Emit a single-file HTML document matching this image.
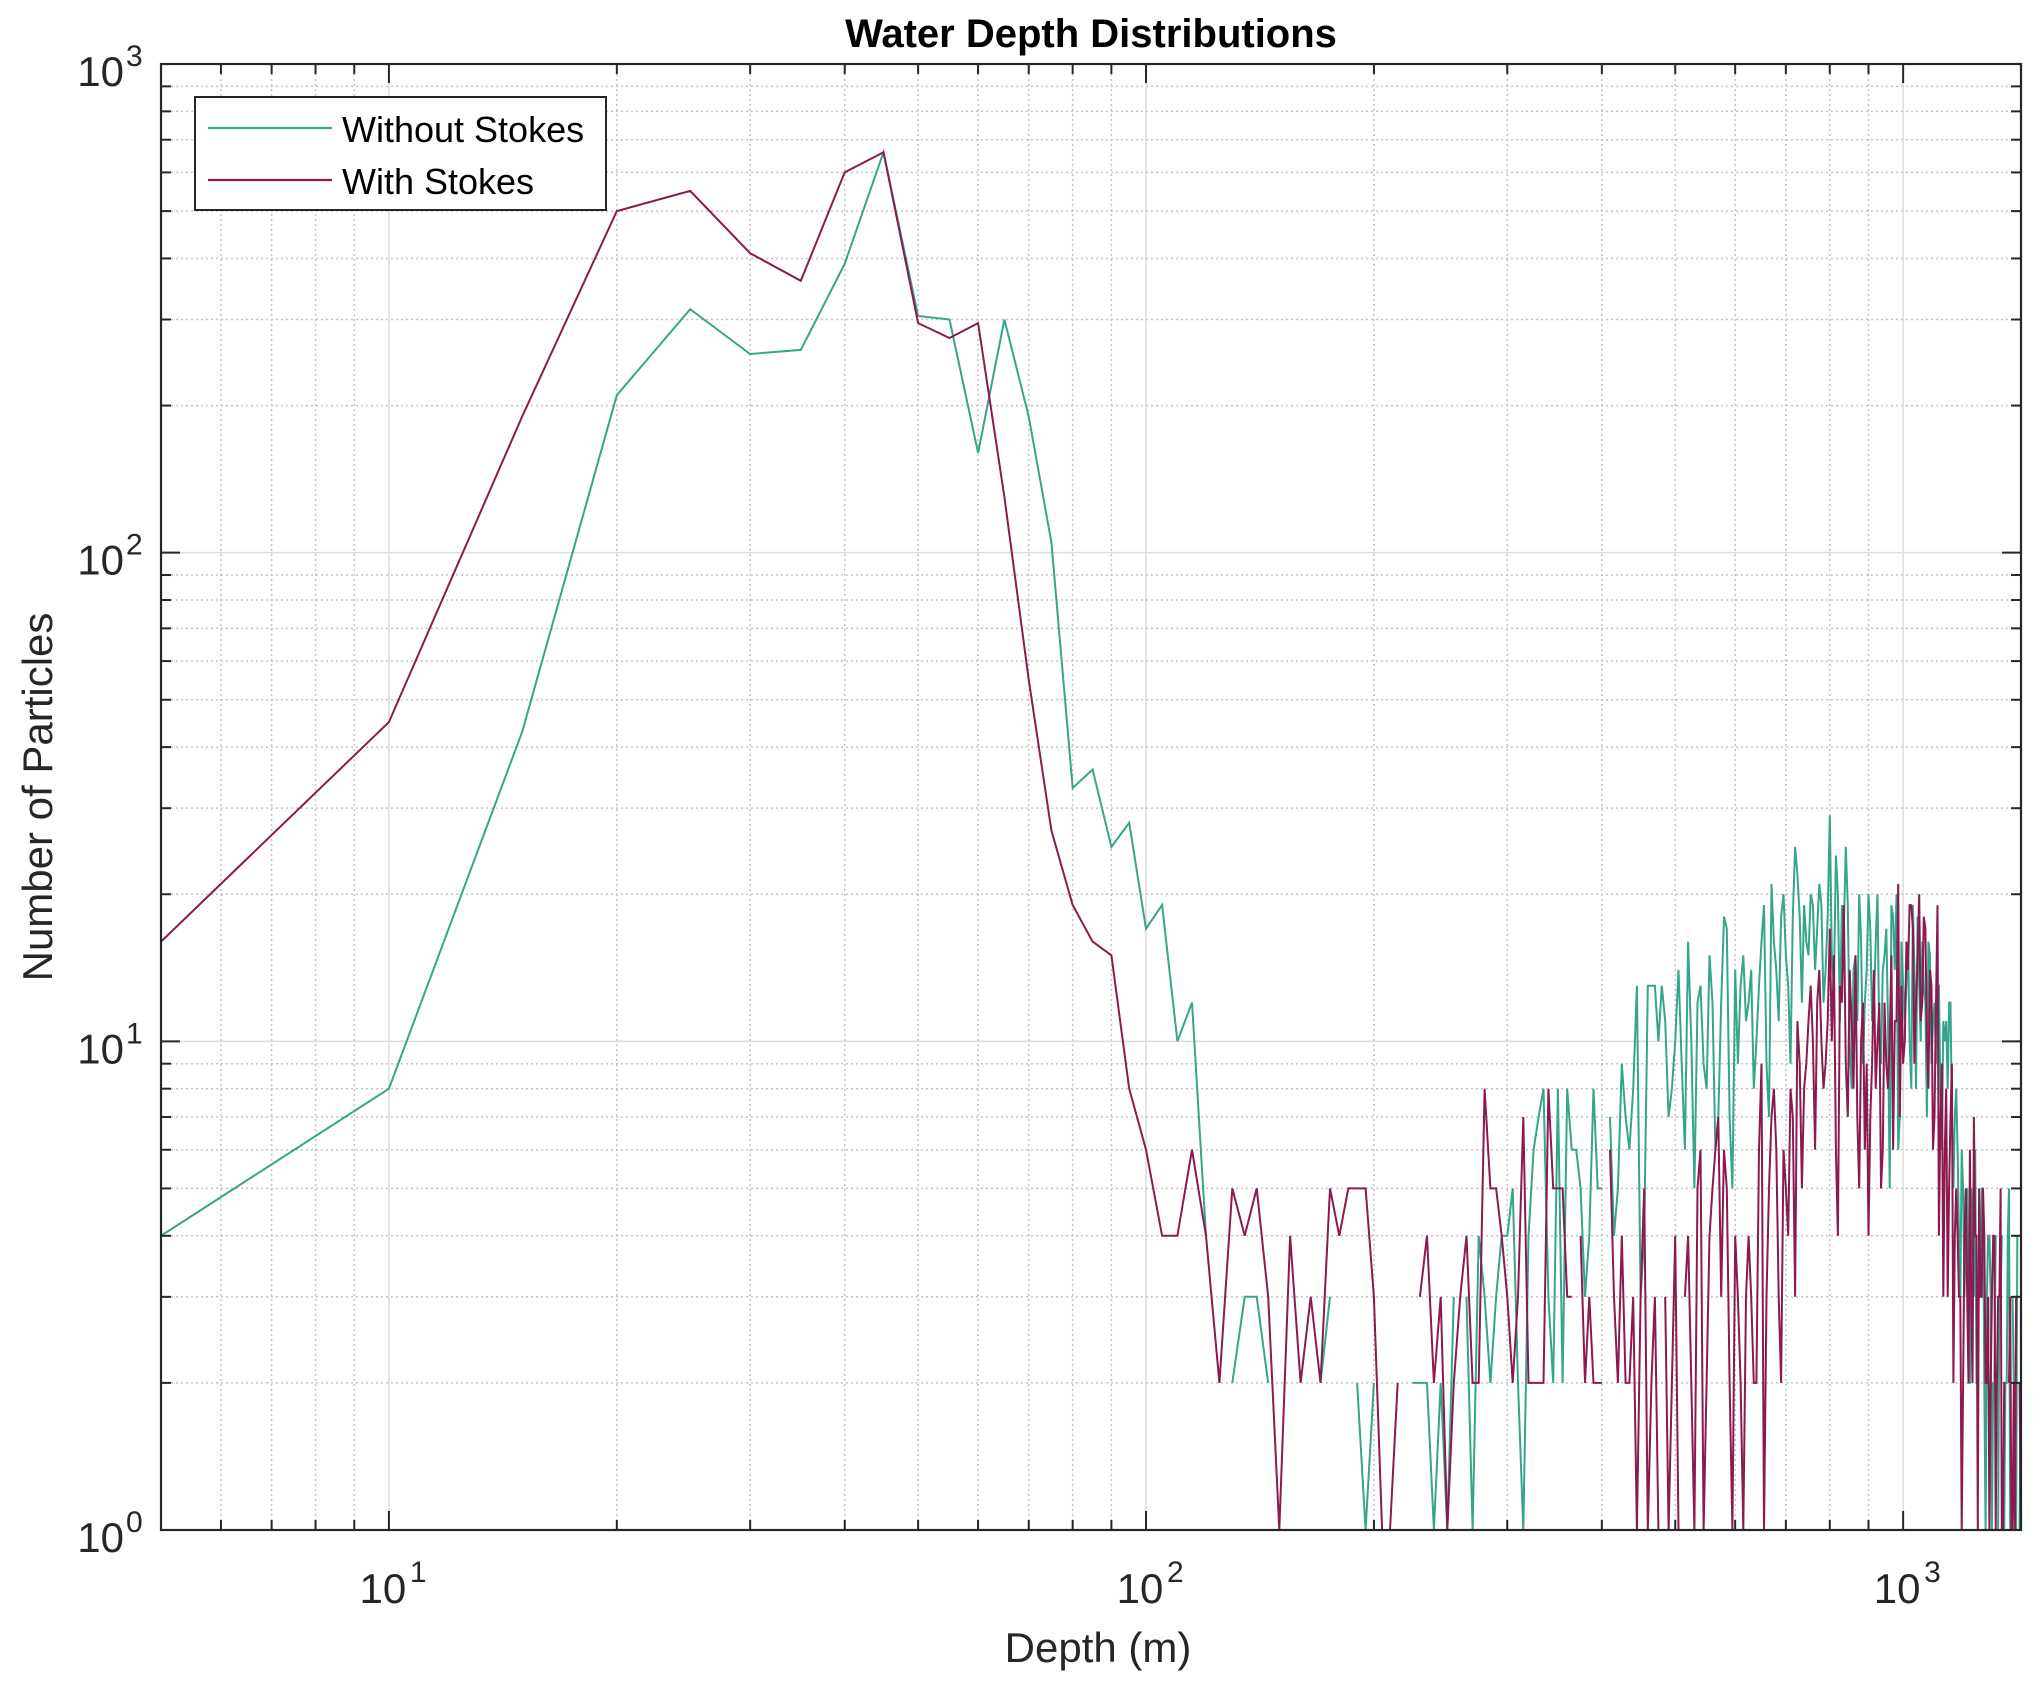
<!DOCTYPE html>
<html><head><meta charset="utf-8"><style>
html,body{margin:0;padding:0;background:#fff;}
svg{display:block;font-family:"Liberation Sans",Arial,sans-serif;}
</style></head><body>
<svg id="chart" width="2042" height="1690" viewBox="0 0 2042 1690" xmlns="http://www.w3.org/2000/svg">
<rect x="0" y="0" width="2042" height="1690" fill="#fff"/>
<g id="grid"></g><g id="series"></g><g id="axes"></g>
<text x="1091" y="47" text-anchor="middle" font-size="40" font-weight="bold" fill="#000">Water Depth Distributions</text>
<text x="1098" y="1662" text-anchor="middle" font-size="42" fill="#262626">Depth (m)</text>
<text transform="translate(52,797) rotate(-90)" text-anchor="middle" font-size="42" fill="#262626">Number of Particles</text>
<g id="legend">
<rect x="195" y="97" width="411" height="113" fill="#fff" stroke="#262626" stroke-width="2"/>
<line x1="208" y1="128" x2="332" y2="128" stroke="#35a58b" stroke-width="2.2"/>
<text x="342" y="142" font-size="36" fill="#000">Without Stokes</text>
<line x1="208" y1="180" x2="332" y2="180" stroke="#8a1a50" stroke-width="2.2"/>
<text x="342" y="194" font-size="36" fill="#000">With Stokes</text>
</g>
</svg>
<script>
// depth bins 5..400 (step 5)
const withoutStokesA = [4,8,43,210,315,255,260,390,660,305,300,160,300,190,105,33,36,25,28,17,19,10,12,4,0,2,3,3,2,0,0,0,0,2,3,0,0,2,1,2,0,0,0,0,2,2,2,1,2,1,3,0,3,1,4,3,2,3,4,4,5,2,1,4,6,7,8,3,2,8,2,8,6,6,5,3,4,8,5,5];
const withStokesA = [16,45,190,500,550,410,360,600,660,295,275,295,130,55,27,19,16,15,8,6,4,4,6,4,2,5,4,5,3,1,4,2,3,2,5,4,5,5,5,3,1,1,2,0,0,3,4,2,3,1,2,3,4,2,2,8,5,5,4,3,2,3,7,2,2,2,2,8,5,5,5,3,3,0,4,2,3,2,2,2];
// depth bins 410..1430 (step 10)
const withoutStokesB = [7,5,7,8,3,13,13,13,7,10,9,16,5,13,8,12,7,18,7,14,13,11,14,10,16,9,21,14,18,15,9,25,18,19,15,19,17,19,14,29,13,20,19,25,10,14,11,16,12,20,11,16,10,14,17,5,18,20,7,13,13,10,19,8,13,16,12,16,9,12,13,8,11,11,12,7,7,6,3,5,4,2,5,3,2,4,5,2,3,4,1,2,0,3,4,1,2,5,0,2,1,0,2];
const withStokesB = [6,2,2,3,3,1,3,0,1,4,0,4,1,6,2,5,7,6,2,4,2,3,3,2,9,3,7,6,2,5,8,3,9,8,11,10,12,10,9,17,15,4,12,9,14,8,7,10,6,4,9,8,12,6,9,10,6,11,7,9,16,19,17,12,20,12,17,8,13,7,19,7,3,8,5,9,4,4,3,2,5,2,3,7,4,5,3,4,2,1,3,4,2,3,1,2,0,2,1,2,3,0,1];
// depth bins 415..1425 (step 10)
const withoutStokesC = [4,9,6,13,4,13,10,11,8, 14,6,10,12,9,15,6,12,17,5, 9,15,12,8,13,19,7,16,11,20, 13,18,22,12,16,20,14,21,12,18, 15,24,11,17,19,8,15,20,9,14, 17,12,20,9,15,11,19,14,6,16, 11,16,8,14,18,10,13,7,15,11, 9,13,6,10,8,12,5,8,4,6, 3,5,2,4,6,2,3,5,1,4, 3,2,4,1,3,0,2,4,1,3, 2,4,1];
const withStokesC = [3,4,2,1,5,2,1,3,2, 1,3,2,5,1,4,6,3,5,1, 3,1,4,2,6,1,5,8,3,6, 4,7,11,5,9,13,6,14,8,11, 10,6,13,19,7,11,15,5,12,9, 7,14,10,5,12,8,15,11,21,13, 10,14,19,9,15,11,18,10,14,6, 12,4,9,6,3,7,2,5,3,1, 4,3,6,2,4,1,3,5,2,3, 2,4,1,3,5,1,2,0,3,1, 1,3,2];
const xTickLabels = ["1","2","3"];
const yTickLabels = ["0","1","2","3"];

const depthBins = [];
for (let d = 5; d <= 1430; d += 5) depthBins.push(d);
function pick(A,B,C,d){
  if (d<=400) return A[d/5-1];
  if (d%10===0) return B[(d-410)/10];
  return C[(d-415)/10];
}
const withoutStokes = depthBins.map(d=>pick(withoutStokesA,withoutStokesB,withoutStokesC,d));
const withStokes = depthBins.map(d=>pick(withStokesA,withStokesB,withStokesC,d));

const L=161,R=2021,T=64,B=1530;
const XMIN=Math.log10(5), XMAX=3+(2021-1903)/758;
const xs = v => L + (Math.log10(v)-XMIN)/(XMAX-XMIN)*(R-L);
const ys = v => B - Math.log10(v)/3*(B-T);
const NS="http://www.w3.org/2000/svg";
function mk(tag, attrs, parent){const e=document.createElementNS(NS,tag);for(const k in attrs)e.setAttribute(k,attrs[k]);parent.appendChild(e);return e;}

const grid=document.getElementById('grid'), axes=document.getElementById('axes'), ser=document.getElementById('series');
for(let dec=0; dec<=3; dec++){
  for(let m=1;m<=9;m++){
    const v=m*Math.pow(10,dec);
    if(v<5||v>Math.pow(10,XMAX))continue;
    const x=xs(v), major=(m===1);
    const g=mk('line',{x1:x,y1:T,x2:x,y2:B,stroke:major?'#dcdcdc':'#c4c4c4','stroke-width':1.5,'stroke-dasharray':major?'none':'2,3'},grid);
    
    
    const len=major?19:10;
    mk('line',{x1:x,y1:B,x2:x,y2:B-len,stroke:'#262626','stroke-width':2},axes);
    mk('line',{x1:x,y1:T,x2:x,y2:T+len,stroke:'#262626','stroke-width':2},axes);
  }
}
for(let dec=0; dec<=2; dec++){
  for(let m=1;m<=9;m++){
    const v=m*Math.pow(10,dec);
    const y=ys(v), major=(m===1);
    if(m>1||dec>0){
      const g=mk('line',{x1:L,y1:y,x2:R,y2:y,stroke:major?'#dcdcdc':'#c4c4c4','stroke-width':1.5,'stroke-dasharray':major?'none':'2,3'},grid);
      
      
    }
    const len=major?19:10;
    mk('line',{x1:L,y1:y,x2:L+len,y2:y,stroke:'#262626','stroke-width':2},axes);
    mk('line',{x1:R,y1:y,x2:R-len,y2:y,stroke:'#262626','stroke-width':2},axes);
  }
}
const box=mk('rect',{x:L,y:T,width:R-L,height:B-T,fill:'none',stroke:'#262626','stroke-width':2.2},axes);


xTickLabels.forEach(e=>{
  const x=xs(Math.pow(10,+e));
  const t=mk('text',{x:x-6,y:1603,'text-anchor':'middle','font-size':42,fill:'#262626'},axes);
  
  
  t.textContent='10';
  const s=mk('text',{x:x+21,y:1582,'font-size':30,fill:'#262626'},axes);
  s.textContent=e;
});
yTickLabels.forEach(e=>{
  const y=ys(Math.pow(10,+e));
  const t=mk('text',{x:124,y:y+22,'text-anchor':'end','font-size':42,fill:'#262626'},axes);
  
  
  t.textContent='10';
  const s=mk('text',{x:126,y:y+2,'font-size':30,fill:'#262626'},axes);
  s.textContent=e;
});
function drawSeries(vals,color,name){
  let d='',pen=false;
  for(let i=0;i<depthBins.length;i++){
    const v=vals[i];
    if(!(v>0)){pen=false;continue;}
    d+=(pen?'L':'M')+xs(depthBins[i]).toFixed(1)+','+ys(v).toFixed(1);
    pen=true;
  }
  const p=mk('path',{d:d,fill:'none',stroke:color,'stroke-width':2,'stroke-linejoin':'miter'},ser);
  
  
}
drawSeries(withoutStokes,'#35a58b','series-without-stokes');
drawSeries(withStokes,'#8a1a50','series-with-stokes');
const clip=mk('clipPath',{id:'pc'},document.getElementById('chart'));
mk('rect',{x:L,y:T,width:R-L,height:B-T},clip);
ser.setAttribute('clip-path','url(#pc)');
</script>
</body></html>
